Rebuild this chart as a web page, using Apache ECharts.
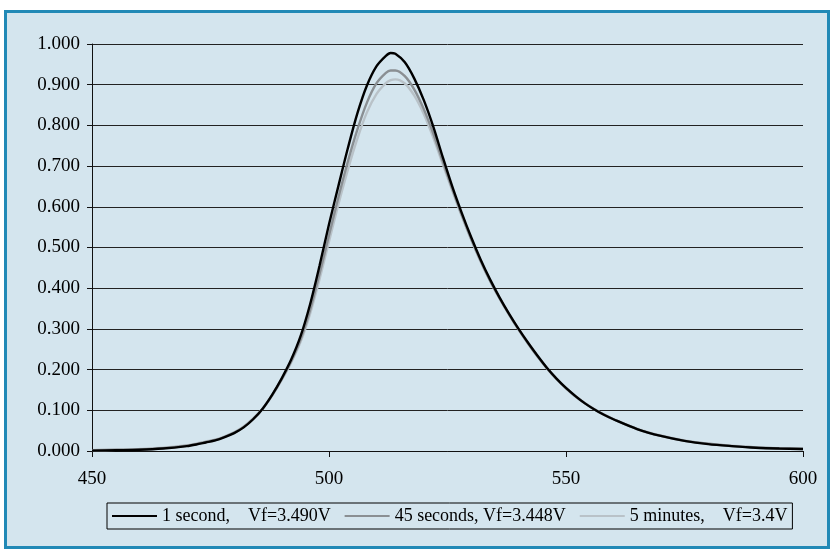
<!DOCTYPE html>
<html>
<head>
<meta charset="utf-8">
<script src="https://cdn.jsdelivr.net/npm/echarts@6/dist/echarts.min.js"></script>
<style>
html,body{margin:0;padding:0;background:#fff;}
#frame{position:absolute;left:4px;top:10px;width:820px;height:533px;border:3px solid #2189b6;background:#d4e5ee;}
#chart{position:absolute;left:0;top:0;width:833px;height:552px;}
</style>
</head>
<body>
<div id="frame"></div>
<div id="chart"></div>
<script>
const wavelengths = [450,455,460,465,470,472,474,476,478,480,482,484,486,488,490,492,494,496,498,500,502,504,506,508,510,512,513,514,516,518,520,522,524,526,528,530,532,534,536,538,540,542,544,546,548,550,552,554,556,558,560,565,570,575,580,585,590,595,600];
const oneSecond = [0.001,0.002,0.003,0.006,0.012,0.016,0.021,0.026,0.034,0.044,0.058,0.078,0.104,0.138,0.178,0.224,0.282,0.360,0.455,0.557,0.652,0.745,0.830,0.898,0.945,0.971,0.978,0.976,0.955,0.915,0.862,0.797,0.722,0.650,0.585,0.525,0.470,0.421,0.377,0.337,0.300,0.266,0.234,0.204,0.178,0.155,0.135,0.117,0.102,0.089,0.078,0.054,0.037,0.025,0.017,0.012,0.008,0.006,0.005];
const fortyFiveSeconds = [0.002,0.003,0.004,0.007,0.013,0.017,0.022,0.027,0.035,0.045,0.059,0.079,0.104,0.137,0.176,0.220,0.274,0.346,0.435,0.530,0.624,0.712,0.790,0.856,0.903,0.929,0.935,0.935,0.921,0.888,0.840,0.780,0.712,0.644,0.580,0.521,0.467,0.418,0.375,0.335,0.298,0.264,0.232,0.203,0.177,0.154,0.134,0.117,0.102,0.089,0.078,0.054,0.037,0.025,0.018,0.012,0.009,0.006,0.005];
const fiveMinutes = [0.002,0.003,0.005,0.008,0.014,0.018,0.023,0.028,0.036,0.046,0.060,0.080,0.104,0.136,0.174,0.217,0.268,0.337,0.422,0.515,0.607,0.692,0.768,0.832,0.877,0.904,0.911,0.913,0.903,0.873,0.828,0.770,0.705,0.640,0.577,0.519,0.465,0.417,0.374,0.335,0.298,0.264,0.232,0.203,0.177,0.154,0.135,0.118,0.103,0.090,0.079,0.055,0.038,0.026,0.018,0.013,0.009,0.007,0.005];
const seriesNames = ['1 second,    Vf=3.490V','45 seconds, Vf=3.448V','5 minutes,    Vf=3.4V'];
const xTicks = [450,500,550,600];

const pair = arr => wavelengths.map((w,i)=>[w,arr[i]]);
const font = '"Liberation Serif","DejaVu Serif",serif';

const chart = echarts.init(document.getElementById('chart'), null, {renderer:'canvas'});
chart.setOption({
  backgroundColor:'transparent',
  animation:false,
  grid:{left:92,right:30,top:44,bottom:101,containLabel:false},
  xAxis:{
    type:'value',min:xTicks[0],max:xTicks[xTicks.length-1],interval:50,
    axisLine:{show:true,onZero:false,lineStyle:{color:'#111',width:1}},
    axisTick:{show:true,inside:false,length:6,lineStyle:{color:'#111'}},
    axisLabel:{color:'#000',fontFamily:font,fontSize:19,margin:19},
    splitLine:{show:false}
  },
  yAxis:{
    type:'value',min:0,max:1,interval:0.1,
    axisLine:{show:true,lineStyle:{color:'#111',width:1}},
    axisTick:{show:true,inside:false,length:5,lineStyle:{color:'#111'}},
    axisLabel:{color:'#000',fontFamily:font,fontSize:19,margin:12,formatter:v=>v.toFixed(3)},
    splitLine:{show:true,lineStyle:{color:'#222',width:1}}
  },
  legend:{
    left:107,top:503,
    orient:'horizontal',
    backgroundColor:'transparent',
    borderColor:'#000',borderWidth:1,borderRadius:0,
    padding:[4,5],
    itemGap:14,itemWidth:45,itemHeight:2,
    icon:'rect',
    textStyle:{color:'#000',fontFamily:font,fontSize:18},
    data:seriesNames
  },
  series:[
    {name:seriesNames[2],type:'line',data:pair(fiveMinutes),smooth:0.3,symbol:'none',z:2,
      lineStyle:{color:'#b9c2c8',width:2.4},itemStyle:{color:'#b9c2c8'}},
    {name:seriesNames[1],type:'line',data:pair(fortyFiveSeconds),smooth:0.3,symbol:'none',z:3,
      lineStyle:{color:'#8a8f93',width:2.4},itemStyle:{color:'#8a8f93'}},
    {name:seriesNames[0],type:'line',data:pair(oneSecond),smooth:0.3,symbol:'none',z:4,
      lineStyle:{color:'#000',width:2.4},itemStyle:{color:'#000'}}
  ]
});
</script>
</body>
</html>
